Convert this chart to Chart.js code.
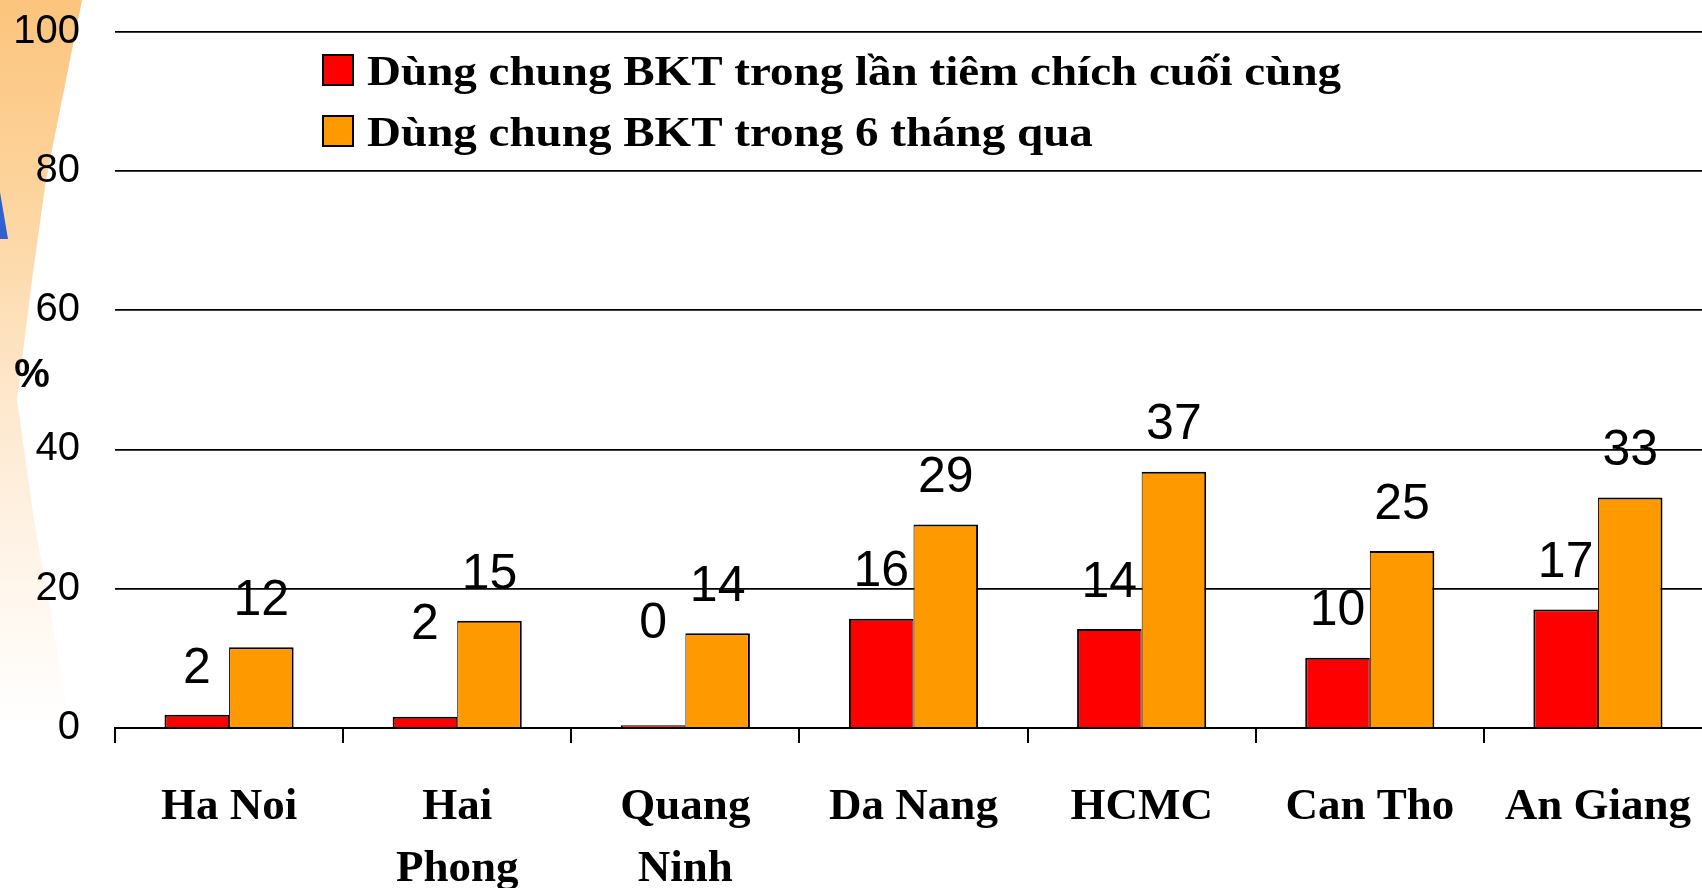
<!DOCTYPE html>
<html>
<head>
<meta charset="utf-8">
<script src="https://cdn.jsdelivr.net/npm/chart.js@4/dist/chart.umd.min.js"></script>
<style>
  html, body { margin: 0; padding: 0; overflow: hidden; background: #fff; }
  .deco {
    position: absolute; left: 0; top: 0; width: 90px; height: 730px;
    background: linear-gradient(to bottom, #fcc47c 0%, #fdd6a2 30%, #fee8cd 55%, #fff6ec 80%, #fff 100%);
    clip-path: polygon(0 0, 82px 0, 62px 100px, 46px 180px, 32px 280px, 17px 400px, 34px 520px, 52px 620px, 70px 725px, 0 725px);
  }
  .tri {
    position: absolute; left: 0; top: 192px; width: 8px; height: 47px; background: #2f62d0;
    clip-path: polygon(0 0, 8px 47px, 0 47px);
  }
  .wrap { position: absolute; left: 0; top: 0; }
</style>
</head>
<body>
<div class="deco"></div>
<div class="tri"></div>
<div class="wrap"><canvas id="myCanvas" width="1720" height="900"></canvas></div>
<script>
// data
const categories = ['Ha Noi', ['Hai', 'Phong'], ['Quang', 'Ninh'], 'Da Nang', 'HCMC', 'Can Tho', 'An Giang'];
const seriesNames = ['Dùng chung BKT trong lần tiêm chích cuối cùng', 'Dùng chung BKT trong 6 tháng qua'];
const lastInjection = [1.9, 1.6, 0.4, 15.7, 14.2, 10.1, 17.0];
const last6Months = [11.6, 15.4, 13.6, 29.2, 36.8, 25.4, 33.1];
const yTicks = [0, 20, 40, 60, 80, 100];

// value labels above the bars
const valueLabels = {
  id: 'valueLabels',
  afterDatasetsDraw(chart, args, opts) {
    const ctx = chart.ctx;
    ctx.save();
    ctx.font = '50px "Liberation Sans", Arial, sans-serif';
    ctx.fillStyle = '#000';
    ctx.textAlign = 'center';
    ctx.textBaseline = 'middle';
    chart.data.datasets.forEach((ds, di) => {
      chart.getDatasetMeta(di).data.forEach((bar, i) => {
        let lift = opts.lift[di + '-' + i] || opts.lift.def;
        ctx.fillText(Math.round(ds.data[i]), bar.x, bar.y - lift);
      });
    });
    ctx.restore();
  }
};

// legend (wide serif text) and the "%" axis caption
const sideText = {
  id: 'sideText',
  afterDraw(chart, args, opts) {
    const ctx = chart.ctx;
    ctx.save();
    chart.data.datasets.forEach((ds, i) => {
      let y = opts.top + i * opts.rowGap;
      ctx.fillStyle = ds.backgroundColor;
      ctx.fillRect(opts.left, y - 15, 30, 30);
      ctx.lineWidth = 2;
      ctx.strokeStyle = '#000';
      ctx.strokeRect(opts.left, y - 15, 30, 30);
      ctx.save();
      ctx.translate(opts.left + 44, y + 15);
      ctx.scale(opts.stretch, 1);
      ctx.font = 'bold 42px "Liberation Serif", "Times New Roman", serif';
      ctx.fillStyle = '#000';
      ctx.textBaseline = 'alphabetic';
      ctx.fillText(ds.label, 0, 0);
      ctx.restore();
    });
    ctx.font = 'bold 40px "Liberation Sans", Arial, sans-serif';
    ctx.fillStyle = '#000';
    ctx.textAlign = 'center';
    ctx.textBaseline = 'middle';
    ctx.fillText('%', 32, chart.scales.y.getPixelForValue(50.6));
    ctx.restore();
  }
};

const ctx = document.querySelector('#myCanvas').getContext('2d');
const myChart = new Chart(ctx, {
  type: 'bar',
  data: {
    labels: categories,
    datasets: [{
      label: seriesNames[0],
      data: lastInjection,
      backgroundColor: '#FF0000',
      borderColor: '#000',
      borderWidth: { left: 2, top: 2, right: 1, bottom: 0 }
    }, {
      label: seriesNames[1],
      data: last6Months,
      backgroundColor: '#FF9900',
      borderColor: '#000',
      borderWidth: { left: 1, top: 2, right: 2, bottom: 0 }
    }]
  },
  options: {
    responsive: false,
    devicePixelRatio: 1,
    animation: false,
    events: [],
    datasets: { bar: { barPercentage: 1, categoryPercentage: 0.566 } },
    layout: { padding: { top: 31.5, right: 8, bottom: 12, left: 0 } },
    plugins: {
      legend: { display: false },
      tooltip: { enabled: false },
      valueLabels: { lift: { def: 46, '0-1': 92, '0-2': 101 } },
      sideText: { left: 323, top: 70, rowGap: 61, stretch: 1.12 }
    },
    scales: {
      x: {
        offset: true,
        grid: { offset: true, drawOnChartArea: false, drawTicks: true, tickLength: 15, color: '#000', lineWidth: 2 },
        border: { display: true, color: '#000', width: 2 },
        ticks: {
          color: '#000',
          font: { family: '"Liberation Serif", "Times New Roman", serif', size: 45, weight: 'bold', lineHeight: 1.387 },
          padding: 33,
          maxRotation: 0,
          autoSkip: false
        },
        afterFit(scale) { scale.height = 160; scale.paddingLeft = 0; scale.paddingRight = 0; }
      },
      y: {
        min: 0,
        max: 100,
        afterBuildTicks(scale) { scale.ticks = yTicks.map(v => ({ value: v })); },
        grid: { drawTicks: false, color: '#000', lineWidth: 1.8 },
        border: { display: false },
        ticks: { color: '#000', font: { family: '"Liberation Sans", Arial, sans-serif', size: 40 }, padding: 35 },
        afterFit(scale) { scale.width = 115; scale.paddingTop = 0; scale.paddingBottom = 0; }
      }
    }
  },
  plugins: [valueLabels, sideText]
});
</script>
</body>
</html>
